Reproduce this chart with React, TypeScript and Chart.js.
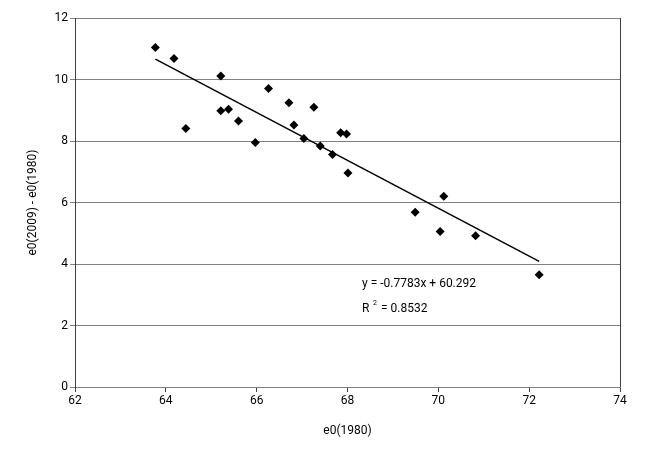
import React, { useEffect, useRef } from "react";
import { Chart, registerables } from "chart.js";

Chart.register(...registerables);

const e0_1980: number[] = [
  63.77, 64.18, 64.44, 65.21, 65.21, 65.38, 65.6, 65.97, 66.26, 66.71, 66.82, 67.04,
  67.26, 67.4, 67.67, 67.85, 67.98, 68.01, 69.49, 70.04, 70.12, 70.82, 72.22,
];
const e0_gain: number[] = [
  11.04, 10.68, 8.41, 10.11, 8.98, 9.03, 8.65, 7.95, 9.71, 9.24, 8.52, 8.08,
  9.1, 7.84, 7.56, 8.27, 8.23, 6.96, 5.68, 5.06, 6.2, 4.92, 3.65,
];
const trendSlope = -0.7783;
const trendIntercept = 60.292;
const equationText = "y = -0.7783x + 60.292";
const r2Value = "= 0.8532";
const xTitle = "e0(1980)";
const yTitle = "e0(2009) - e0(1980)";

const FONT = "Roboto, 'Noto Sans', sans-serif";

export default function App() {
  const ref = useRef<HTMLCanvasElement | null>(null);

  useEffect(() => {
    if (!ref.current) return;
    const xMin = Math.min(...e0_1980);
    const xMax = Math.max(...e0_1980);
    const trend = [
      { x: xMin, y: trendSlope * xMin + trendIntercept },
      { x: xMax, y: trendSlope * xMax + trendIntercept },
    ];
    const points = e0_1980.map((x, i) => ({ x, y: e0_gain[i] }));

    const extras = {
      id: "extras",
      afterDraw(chart: any) {
        const { ctx, chartArea } = chart;
        ctx.save();
        ctx.strokeStyle = "#404040";
        ctx.lineWidth = 1;
        ctx.beginPath();
        const rx = Math.round(chartArea.right) + 0.5;
        ctx.moveTo(rx, chartArea.top);
        ctx.lineTo(rx, chartArea.bottom);
        ctx.stroke();
        ctx.fillStyle = "#000";
        ctx.font = `12px ${FONT}`;
        ctx.textBaseline = "middle";
        ctx.textAlign = "left";
        ctx.fillText(equationText, 362, 284);
        ctx.fillText("R", 362, 309);
        ctx.font = `7px ${FONT}`;
        ctx.fillText("2", 373, 303);
        ctx.font = `12px ${FONT}`;
        ctx.fillText(r2Value, 381, 309);
        ctx.restore();
      },
    };

    const chart = new Chart(ref.current, {
      type: "scatter",
      data: {
        datasets: [
          {
            type: "line",
            data: trend,
            borderColor: "#000",
            borderWidth: 1.5,
            pointRadius: 0,
            fill: false,
          } as any,
          {
            data: points,
            pointStyle: "rectRot",
            pointRadius: 4.5,
            pointBackgroundColor: "#000",
            pointBorderColor: "#000",
            pointBorderWidth: 0,
          },
        ],
      },
      options: {
        animation: false,
        responsive: false,
        maintainAspectRatio: false,
        layout: { padding: { left: 0, right: 30, top: 18, bottom: 0 } },
        plugins: { legend: { display: false }, tooltip: { enabled: false } },
        scales: {
          x: {
            type: "linear",
            min: 62,
            max: 74,
            ticks: { stepSize: 2, color: "#000", font: { family: FONT, size: 12 }, padding: 2 },
            grid: { drawOnChartArea: false, drawTicks: true, tickLength: 5, color: "#404040" },
            border: { color: "#808080", width: 1 },
            title: {
              display: true,
              text: xTitle,
              color: "#000",
              font: { family: FONT, size: 12 },
              padding: { top: 0, bottom: 20 },
            },
            afterFit(s: any) {
              s.height = 71;
            },
          },
          y: {
            type: "linear",
            min: 0,
            max: 12,
            ticks: { stepSize: 2, color: "#000", font: { family: FONT, size: 12 }, padding: 2 },
            grid: { color: "#808080", tickLength: 5, lineWidth: 1 },
            border: { color: "#404040", width: 1 },
            title: {
              display: true,
              text: yTitle,
              color: "#000",
              font: { family: FONT, size: 12 },
              padding: { top: 26, bottom: 0 },
            },
            afterFit(s: any) {
              s.width = 75;
            },
          },
        },
      },
      plugins: [extras],
    });
    return () => chart.destroy();
  }, []);

  return (
    <div style={{ position: "fixed", left: 0, top: 0, width: 650, height: 458, background: "#fff" }}>
      <canvas ref={ref} width={650} height={458} />
    </div>
  );
}
